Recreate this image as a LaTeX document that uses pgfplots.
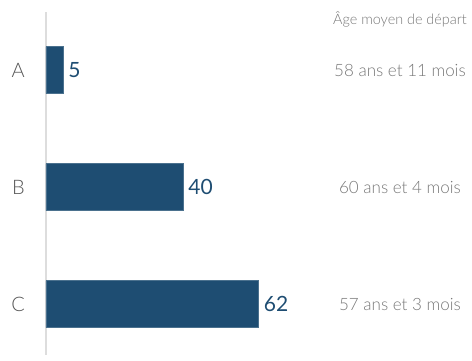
\documentclass[border=0pt]{standalone}
\usepackage{pgfplots}
\pgfplotsset{compat=1.18}
\usepackage{fontspec}
\setmainfont{Lato}
\newfontfamily\lightfont{Lato Light}
\definecolor{barblue}{HTML}{1E4D72}
\definecolor{txtgray}{HTML}{777777}
\definecolor{lblgray}{HTML}{555555}
\definecolor{axgray}{HTML}{DDDDDD}
\begin{document}
\begin{tikzpicture}
\path (0,0) rectangle (472pt,360pt);
\begin{axis}[
  at={(46pt,5pt)}, anchor=south west,
  scale only axis,
  width=411.6pt, height=343pt,
  xmin=0, xmax=120,
  ymin=-0.496, ymax=2.436,
  y dir=reverse,
  axis x line=none,
  axis y line=left,
  y axis line style={draw=axgray, line width=1.3pt, -},
  ytick={0,1,2}, yticklabels={A,B,C},
  major tick length=0pt,
  yticklabel style={font=\lightfont\fontsize{20}{20}\selectfont, color=lblgray, inner sep=0pt, xshift=-21pt},
  xbar, bar width=47pt,
  nodes near coords,
  point meta=x,
  /pgf/number format/assume math mode=true,
  nodes near coords style={anchor=west, inner sep=0pt, xshift=5pt, font=\fontsize{21}{21}\selectfont, color=barblue},
  clip=false,
]
\addplot[fill=barblue, draw=barblue!80!white, line width=0.5pt] coordinates {(5,0) (40,1) (62,2)};
\node[font=\lightfont\fontsize{14.4}{14.4}\selectfont, color=txtgray] at (axis cs:103.2,-0.43) {Âge moyen de départ};
\node[font=\lightfont\fontsize{17}{17}\selectfont, color=txtgray] at (axis cs:103.2,0) {58 ans et 11 mois};
\node[font=\lightfont\fontsize{17}{17}\selectfont, color=txtgray] at (axis cs:103.2,1) {60 ans et 4 mois};
\node[font=\lightfont\fontsize{17}{17}\selectfont, color=txtgray] at (axis cs:103.2,2) {57 ans et 3 mois};
\end{axis}
\end{tikzpicture}
\end{document}
